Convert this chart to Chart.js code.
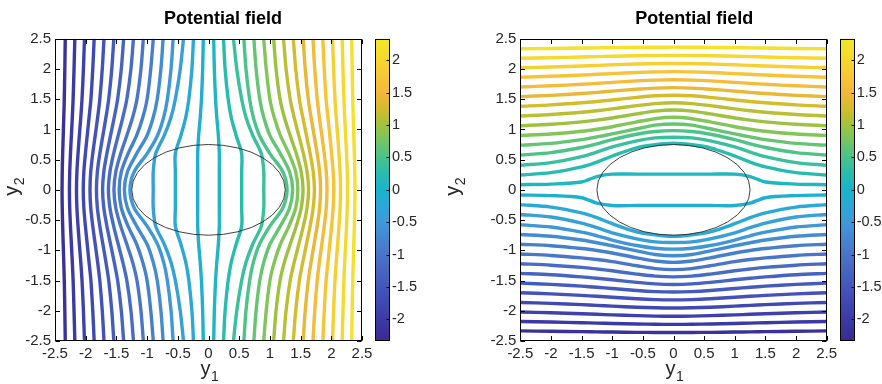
<!DOCTYPE html>
<html>
<head>
<meta charset="utf-8">
<script src="https://cdn.jsdelivr.net/npm/chart.js@4/dist/chart.umd.min.js"></script>
<style>
  body { margin: 0; background: #fff; }
  #wrap { position: relative; width: 882px; height: 384px; }
  canvas { position: absolute; top: 0; }
  #left { left: 0; }
  #right { left: 441px; }
</style>
</head>
<body>
<div id="wrap">
  <canvas id="left" width="441" height="384"></canvas>
  <canvas id="right" width="441" height="384"></canvas>
</div>
<script>
// axis / colorbar ticks
const axisTicks = [-2.5, -2, -1.5, -1, -0.5, 0, 0.5, 1, 1.5, 2, 2.5];
const cbTicks = [-2, -1.5, -1, -0.5, 0, 0.5, 1, 1.5, 2];
const cbRange = [-2.333, 2.333];
const ellipseAxes = [1.25, 0.75];

// contour levels (one per line, low to high)
const levels = [-2.18, -2.03, -1.88, -1.73, -1.58, -1.43, -1.28, -1.13, -0.98, -0.83,
  -0.68, -0.53, -0.38, -0.23, -0.08, 0.08, 0.23, 0.38, 0.53, 0.68,
  0.83, 0.98, 1.13, 1.28, 1.43, 1.58, 1.73, 1.88, 2.03, 2.18];

// left plot: y positions where each line's y1 is read
const leftYs = [2.5, 2, 1.5, 1.2, 0.9, 0.6, 0.3, 0, -0.3, -0.6, -0.9, -1.2, -1.5, -2, -2.5];
// y1 of every line (left to right) at leftYs
const leftLines = [
  [-2.333,-2.34,-2.349,-2.357,-2.366,-2.375,-2.382,-2.385,-2.382,-2.375,-2.366,-2.357,-2.349,-2.34,-2.333],
  [-2.177,-2.19,-2.205,-2.218,-2.233,-2.248,-2.26,-2.265,-2.26,-2.248,-2.233,-2.218,-2.205,-2.19,-2.177],
  [-2.02,-2.037,-2.06,-2.08,-2.103,-2.125,-2.143,-2.15,-2.143,-2.125,-2.103,-2.08,-2.06,-2.037,-2.02],
  [-1.862,-1.885,-1.915,-1.945,-1.975,-2.005,-2.03,-2.04,-2.03,-2.005,-1.975,-1.945,-1.915,-1.885,-1.862],
  [-1.702,-1.73,-1.77,-1.805,-1.845,-1.885,-1.918,-1.93,-1.918,-1.885,-1.845,-1.805,-1.77,-1.73,-1.702],
  [-1.542,-1.575,-1.625,-1.67,-1.72,-1.77,-1.81,-1.825,-1.81,-1.77,-1.72,-1.67,-1.625,-1.575,-1.542],
  [-1.382,-1.42,-1.48,-1.535,-1.595,-1.655,-1.705,-1.725,-1.705,-1.655,-1.595,-1.535,-1.48,-1.42,-1.382],
  [-1.222,-1.263,-1.33,-1.395,-1.47,-1.545,-1.605,-1.63,-1.605,-1.545,-1.47,-1.395,-1.33,-1.263,-1.222],
  [-1.061,-1.1,-1.165,-1.235,-1.33,-1.43,-1.51,-1.54,-1.51,-1.43,-1.33,-1.235,-1.165,-1.1,-1.061],
  [-0.899,-0.94,-1.0,-1.07,-1.17,-1.31,-1.42,-1.455,-1.42,-1.31,-1.17,-1.07,-1.0,-0.94,-0.899],
  [-0.739,-0.775,-0.835,-0.9,-1.0,-1.17,-1.32,-1.37,-1.32,-1.17,-1.0,-0.9,-0.835,-0.775,-0.739],
  [-0.576,-0.61,-0.67,-0.73,-0.83,-1.0,-1.21,-1.28,-1.21,-1.0,-0.83,-0.73,-0.67,-0.61,-0.576],
  [-0.407,-0.46,-0.54,-0.61,-0.72,-0.86,-0.9,-0.9,-0.9,-0.86,-0.72,-0.61,-0.54,-0.46,-0.407],
  [-0.245,-0.27,-0.32,-0.37,-0.45,-0.54,-0.54,-0.54,-0.54,-0.54,-0.45,-0.37,-0.32,-0.27,-0.245],
  [-0.085,-0.095,-0.115,-0.135,-0.16,-0.176,-0.176,-0.176,-0.176,-0.176,-0.16,-0.135,-0.115,-0.095,-0.085],
  [0.085,0.095,0.115,0.135,0.16,0.176,0.176,0.176,0.176,0.176,0.16,0.135,0.115,0.095,0.085],
  [0.245,0.27,0.32,0.37,0.45,0.54,0.54,0.54,0.54,0.54,0.45,0.37,0.32,0.27,0.245],
  [0.407,0.46,0.54,0.61,0.72,0.86,0.9,0.9,0.9,0.86,0.72,0.61,0.54,0.46,0.407],
  [0.576,0.61,0.67,0.73,0.83,1.0,1.21,1.28,1.21,1.0,0.83,0.73,0.67,0.61,0.576],
  [0.739,0.775,0.835,0.9,1.0,1.17,1.32,1.37,1.32,1.17,1.0,0.9,0.835,0.775,0.739],
  [0.899,0.94,1.0,1.07,1.17,1.31,1.42,1.455,1.42,1.31,1.17,1.07,1.0,0.94,0.899],
  [1.061,1.1,1.165,1.235,1.33,1.43,1.51,1.54,1.51,1.43,1.33,1.235,1.165,1.1,1.061],
  [1.222,1.263,1.33,1.395,1.47,1.545,1.605,1.63,1.605,1.545,1.47,1.395,1.33,1.263,1.222],
  [1.382,1.42,1.48,1.535,1.595,1.655,1.705,1.725,1.705,1.655,1.595,1.535,1.48,1.42,1.382],
  [1.542,1.575,1.625,1.67,1.72,1.77,1.81,1.825,1.81,1.77,1.72,1.67,1.625,1.575,1.542],
  [1.702,1.73,1.77,1.805,1.845,1.885,1.918,1.93,1.918,1.885,1.845,1.805,1.77,1.73,1.702],
  [1.862,1.885,1.915,1.945,1.975,2.005,2.03,2.04,2.03,2.005,1.975,1.945,1.915,1.885,1.862],
  [2.02,2.037,2.06,2.08,2.103,2.125,2.143,2.15,2.143,2.125,2.103,2.08,2.06,2.037,2.02],
  [2.177,2.19,2.205,2.218,2.233,2.248,2.26,2.265,2.26,2.248,2.233,2.218,2.205,2.19,2.177],
  [2.333,2.34,2.349,2.357,2.366,2.375,2.382,2.385,2.382,2.375,2.366,2.357,2.349,2.34,2.333]
];

// right plot: y1 positions where each line's y2 is read
const rightXs = [-2.5, -2, -1.5, -1.25, -1, -0.6, -0.3, 0, 0.3, 0.6, 1, 1.25, 1.5, 2, 2.5];
// y2 of every line (bottom to top) at rightXs
const rightLines = [
  [-2.333,-2.339,-2.345,-2.349,-2.352,-2.357,-2.359,-2.36,-2.359,-2.357,-2.352,-2.349,-2.345,-2.339,-2.333],
  [-2.177,-2.186,-2.198,-2.204,-2.21,-2.219,-2.223,-2.225,-2.223,-2.219,-2.21,-2.204,-2.198,-2.186,-2.177],
  [-2.02,-2.033,-2.049,-2.058,-2.068,-2.081,-2.088,-2.09,-2.088,-2.081,-2.068,-2.058,-2.049,-2.033,-2.02],
  [-1.862,-1.878,-1.899,-1.911,-1.923,-1.942,-1.951,-1.955,-1.951,-1.942,-1.923,-1.911,-1.899,-1.878,-1.862],
  [-1.702,-1.721,-1.746,-1.761,-1.777,-1.802,-1.815,-1.82,-1.815,-1.802,-1.777,-1.761,-1.746,-1.721,-1.702],
  [-1.542,-1.563,-1.593,-1.612,-1.632,-1.665,-1.683,-1.69,-1.683,-1.665,-1.632,-1.612,-1.593,-1.563,-1.542],
  [-1.382,-1.405,-1.44,-1.462,-1.487,-1.53,-1.556,-1.565,-1.556,-1.53,-1.487,-1.462,-1.44,-1.405,-1.382],
  [-1.222,-1.246,-1.283,-1.309,-1.339,-1.393,-1.427,-1.44,-1.427,-1.393,-1.339,-1.309,-1.283,-1.246,-1.222],
  [-1.061,-1.085,-1.125,-1.153,-1.188,-1.256,-1.302,-1.32,-1.302,-1.256,-1.188,-1.153,-1.125,-1.085,-1.061],
  [-0.899,-0.924,-0.97,-1.003,-1.044,-1.124,-1.177,-1.2,-1.177,-1.124,-1.044,-1.003,-0.97,-0.924,-0.899],
  [-0.739,-0.768,-0.83,-0.875,-0.925,-1.01,-1.07,-1.09,-1.07,-1.01,-0.925,-0.875,-0.83,-0.768,-0.739],
  [-0.576,-0.615,-0.7,-0.76,-0.83,-0.92,-0.965,-0.98,-0.965,-0.92,-0.83,-0.76,-0.7,-0.615,-0.576],
  [-0.407,-0.45,-0.55,-0.625,-0.71,-0.81,-0.86,-0.87,-0.86,-0.81,-0.71,-0.625,-0.55,-0.45,-0.407],
  [-0.245,-0.285,-0.38,-0.46,-0.56,-0.695,-0.745,-0.77,-0.745,-0.695,-0.56,-0.46,-0.38,-0.285,-0.245],
  [-0.085,-0.095,-0.13,-0.22,-0.26,-0.26,-0.26,-0.26,-0.26,-0.26,-0.26,-0.22,-0.13,-0.095,-0.085],
  [0.085,0.095,0.13,0.22,0.26,0.26,0.26,0.26,0.26,0.26,0.26,0.22,0.13,0.095,0.085],
  [0.245,0.285,0.38,0.46,0.56,0.695,0.745,0.77,0.745,0.695,0.56,0.46,0.38,0.285,0.245],
  [0.407,0.45,0.55,0.625,0.71,0.81,0.86,0.87,0.86,0.81,0.71,0.625,0.55,0.45,0.407],
  [0.576,0.615,0.7,0.76,0.83,0.92,0.965,0.98,0.965,0.92,0.83,0.76,0.7,0.615,0.576],
  [0.739,0.768,0.83,0.875,0.925,1.01,1.07,1.09,1.07,1.01,0.925,0.875,0.83,0.768,0.739],
  [0.899,0.924,0.97,1.003,1.044,1.124,1.177,1.2,1.177,1.124,1.044,1.003,0.97,0.924,0.899],
  [1.061,1.085,1.125,1.153,1.188,1.256,1.302,1.32,1.302,1.256,1.188,1.153,1.125,1.085,1.061],
  [1.222,1.246,1.283,1.309,1.339,1.393,1.427,1.44,1.427,1.393,1.339,1.309,1.283,1.246,1.222],
  [1.382,1.405,1.44,1.462,1.487,1.53,1.556,1.565,1.556,1.53,1.487,1.462,1.44,1.405,1.382],
  [1.542,1.563,1.593,1.612,1.632,1.665,1.683,1.69,1.683,1.665,1.632,1.612,1.593,1.563,1.542],
  [1.702,1.721,1.746,1.761,1.777,1.802,1.815,1.82,1.815,1.802,1.777,1.761,1.746,1.721,1.702],
  [1.862,1.878,1.899,1.911,1.923,1.942,1.951,1.955,1.951,1.942,1.923,1.911,1.899,1.878,1.862],
  [2.02,2.033,2.049,2.058,2.068,2.081,2.088,2.09,2.088,2.081,2.068,2.058,2.049,2.033,2.02],
  [2.177,2.186,2.198,2.204,2.21,2.219,2.223,2.225,2.223,2.219,2.21,2.204,2.198,2.186,2.177],
  [2.333,2.339,2.345,2.349,2.352,2.357,2.359,2.36,2.359,2.357,2.352,2.349,2.345,2.339,2.333]
];

// colour map stops (parula-like, as seen in the colour bar)
const mapStops = [
  [0.000, [58, 42, 142]], [0.071, [60, 58, 166]], [0.179, [68, 86, 187]],
  [0.286, [74, 116, 200]], [0.393, [63, 153, 216]], [0.450, [42, 169, 214]],
  [0.500, [25, 180, 203]], [0.550, [39, 188, 176]], [0.607, [71, 195, 140]],
  [0.660, [114, 198, 103]], [0.714, [162, 194, 61]], [0.770, [210, 189, 44]],
  [0.821, [244, 182, 60]], [0.870, [248, 196, 55]], [0.929, [245, 216, 44]],
  [1.000, [241, 232, 42]]
];

function colorAt(t) {
  t = Math.max(0, Math.min(1, t));
  for (let i = 1; i < mapStops.length; i++) {
    const [t1, c1] = mapStops[i];
    const [t0, c0] = mapStops[i - 1];
    if (t <= t1) {
      const f = (t - t0) / (t1 - t0);
      const c = c0.map((v, k) => Math.round(v + (c1[k] - v) * f));
      return "rgb(" + c.join(",") + ")";
    }
  }
  return "rgb(241,232,42)";
}

function levelColor(v) {
  return colorAt((v - cbRange[0]) / (cbRange[1] - cbRange[0]));
}

const FONT = '"Liberation Sans", Arial, Helvetica, sans-serif';
const TXT = "#262626";

// y with subscript, drawn along the text direction
function subLabel(ctx, x, y, rot, main, sub) {
  ctx.save();
  ctx.translate(x, y);
  ctx.rotate(rot);
  ctx.fillStyle = TXT;
  ctx.textBaseline = "alphabetic";
  ctx.textAlign = "left";
  ctx.font = "20px " + FONT;
  const w1 = ctx.measureText(main).width;
  ctx.font = "14px " + FONT;
  const w2 = ctx.measureText(sub).width;
  const x0 = -(w1 + w2) / 2;
  ctx.font = "20px " + FONT;
  ctx.fillText(main, x0, 0);
  ctx.font = "14px " + FONT;
  ctx.fillText(sub, x0 + w1 + 0.5, 6);
  ctx.restore();
}

const decor = {
  id: "decor",
  afterDatasetsDraw(chart, args, o) {
    const { ctx, chartArea: a } = chart;
    const xs = chart.scales.x, ys = chart.scales.y, cb = chart.scales.cb;
    ctx.save();

    // ellipse outline
    const cx = xs.getPixelForValue(0), cy = ys.getPixelForValue(0);
    const rx = xs.getPixelForValue(ellipseAxes[0]) - cx;
    const ry = cy - ys.getPixelForValue(ellipseAxes[1]);
    ctx.beginPath();
    ctx.ellipse(cx, cy, rx, ry, 0, 0, Math.PI * 2);
    ctx.strokeStyle = "#2a2a2a";
    ctx.lineWidth = 0.9;
    ctx.stroke();

    // box + inward ticks
    ctx.strokeStyle = "#000";
    ctx.lineWidth = 1;
    const L = Math.round(a.left) + 0.5, R = Math.round(a.right) - 0.5;
    const T = Math.round(a.top) + 0.5, B = Math.round(a.bottom) - 0.5;
    ctx.strokeRect(L, T, R - L, B - T);
    const tl = 4.5;
    ctx.beginPath();
    axisTicks.forEach(v => {
      const px = Math.round(xs.getPixelForValue(v)) + 0.5;
      ctx.moveTo(px, B); ctx.lineTo(px, B - tl);
      ctx.moveTo(px, T); ctx.lineTo(px, T + tl);
      const py = Math.round(ys.getPixelForValue(v)) + 0.5;
      ctx.moveTo(L, py); ctx.lineTo(L + tl, py);
      ctx.moveTo(R, py); ctx.lineTo(R - tl, py);
    });
    ctx.stroke();

    // colorbar
    const bx = Math.round(a.right) + 13.5, bw = 14;
    const top = cb.getPixelForValue(cbRange[1]), bot = cb.getPixelForValue(cbRange[0]);
    const g = ctx.createLinearGradient(0, bot, 0, top);
    for (let i = 0; i <= 60; i++) g.addColorStop(i / 60, colorAt(i / 60));
    ctx.fillStyle = g;
    ctx.fillRect(bx, top, bw, bot - top);
    ctx.strokeRect(bx, T, bw, B - T);
    ctx.beginPath();
    cbTicks.forEach(v => {
      const py = Math.round(cb.getPixelForValue(v)) + 0.5;
      ctx.moveTo(bx + bw, py); ctx.lineTo(bx + bw - 3, py);
    });
    ctx.stroke();

    // title
    ctx.fillStyle = "#000";
    ctx.font = "bold 18px " + FONT;
    ctx.textAlign = "center";
    ctx.textBaseline = "alphabetic";
    ctx.fillText(o.title, o.titleX, 24);

    // axis titles
    subLabel(ctx, (a.left + a.right) / 2 + 1, 375, 0, "y", "1");
    subLabel(ctx, 18, (a.top + a.bottom) / 2 - 3, -Math.PI / 2, "y", "2");
    ctx.restore();
  }
};

const fmt = v => String(v);

function makeChart(id, datasets, yAxisWidth, cbWidth, titleX) {
  const setTicks = s => { s.ticks = axisTicks.map(v => ({ value: v })); };
  const noGrid = { display: false, drawTicks: false };
  return new Chart(document.getElementById(id), {
    type: "scatter",
    data: { datasets: datasets },
    options: {
      responsive: false,
      animation: false,
      events: [],
      layout: { padding: { top: 35, left: 0, right: 0, bottom: 0 } },
      elements: { point: { radius: 0 } },
      plugins: {
        legend: { display: false },
        tooltip: { enabled: false },
        decor: { title: "Potential field", titleX: titleX }
      },
      scales: {
        x: {
          type: "linear", min: -2.5, max: 2.5,
          grid: noGrid, border: { display: false },
          ticks: { color: TXT, font: { size: 15, family: FONT }, padding: 4, autoSkip: false, maxRotation: 0, callback: fmt },
          afterBuildTicks: setTicks,
          afterFit: s => { s.height = 43; }
        },
        y: {
          type: "linear", min: -2.5, max: 2.5,
          grid: noGrid, border: { display: false },
          ticks: { color: TXT, font: { size: 15, family: FONT }, padding: 4, autoSkip: false, callback: fmt },
          afterBuildTicks: setTicks,
          afterFit: s => { s.width = yAxisWidth; }
        },
        cb: {
          type: "linear", position: "right", min: cbRange[0], max: cbRange[1],
          grid: noGrid, border: { display: false },
          ticks: { color: TXT, font: { size: 14.5, family: FONT }, padding: 30, autoSkip: false, callback: fmt },
          afterBuildTicks: s => { s.ticks = cbTicks.map(v => ({ value: v })); },
          afterFit: s => { s.width = cbWidth; }
        }
      }
    },
    plugins: [decor]
  });
}

function lineSet(pointsFn, lines) {
  return lines.map((vals, i) => ({
    data: vals.map(pointsFn),
    showLine: true,
    borderColor: levelColor(levels[i]),
    borderWidth: 3.4,
    tension: 0.3,
    clip: 0,
    pointRadius: 0,
    fill: false
  }));
}

const leftSets = lineSet((v, j) => ({ x: v, y: leftYs[j] }), leftLines);
const rightSets = lineSet((v, j) => ({ x: rightXs[j], y: v }), rightLines);

makeChart("left", leftSets, 55, 79, 223);
makeChart("right", rightSets, 79.3, 55.3, 253.3);
</script>
</body>
</html>
